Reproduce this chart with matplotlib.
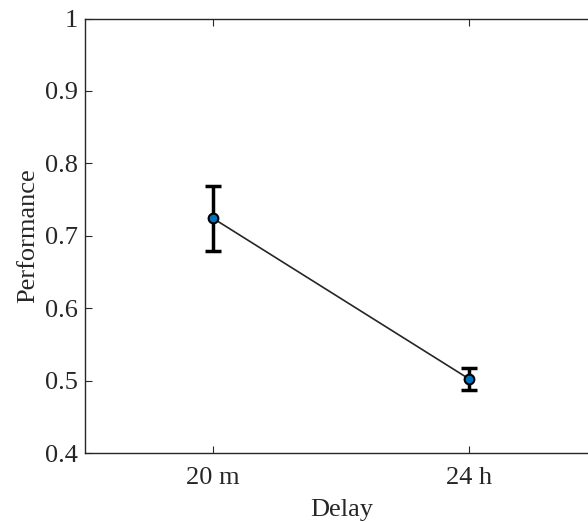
import numpy as np
import matplotlib
matplotlib.use("Agg")
import matplotlib.pyplot as plt

# data
delays = ["20 m", "24 h"]
performance = [0.724, 0.502]
errors = [0.045, 0.015]

plt.rcParams['font.family'] = 'Liberation Serif'

fig = plt.figure(figsize=(5.88, 5.22), dpi=100)
# axes deliberately run past the right edge, as in the reference
ax = fig.add_axes([85 / 588, (522 - 453) / 522, 512.5 / 588, (453 - 18.5) / 522])

x = np.arange(1, len(delays) + 1)
ax.plot(x, performance, color='#262626', linewidth=1.2, zorder=2)
ax.errorbar(x, performance, yerr=errors, fmt='none', ecolor='black',
            elinewidth=2.5, capsize=6, capthick=2.5, zorder=3)
ax.plot(x, performance, 'o', markersize=7, markerfacecolor='#0072BD',
        markeredgecolor='black', markeredgewidth=1.5, linestyle='none', zorder=4)

ax.set_xlim(0.5, 2.5)
ax.set_ylim(0.4, 1.0)
ax.set_xticks(x)
ax.set_xticklabels(delays, family='Liberation Serif')
ax.set_yticks([0.4, 0.5, 0.6, 0.7, 0.8, 0.9, 1.0])
ax.set_yticklabels(['0.4', '0.5', '0.6', '0.7', '0.8', '0.9', '1'], family='Liberation Serif')
ax.tick_params(direction='in', top=True, right=True, length=5, width=0.8,
               labelsize=19, colors='#262626')
ax.tick_params(axis='y', pad=5)
ax.tick_params(axis='x', pad=10)
for s in ax.spines.values():
    s.set_linewidth(1.0)
    s.set_color('#262626')
ax.set_xlabel('Delay', fontsize=19, color='#262626', labelpad=7, family='Liberation Serif')
ax.set_ylabel('Performance', fontsize=19, color='#262626', labelpad=4, family='Liberation Serif')

fig.savefig('out.png', dpi=100)
